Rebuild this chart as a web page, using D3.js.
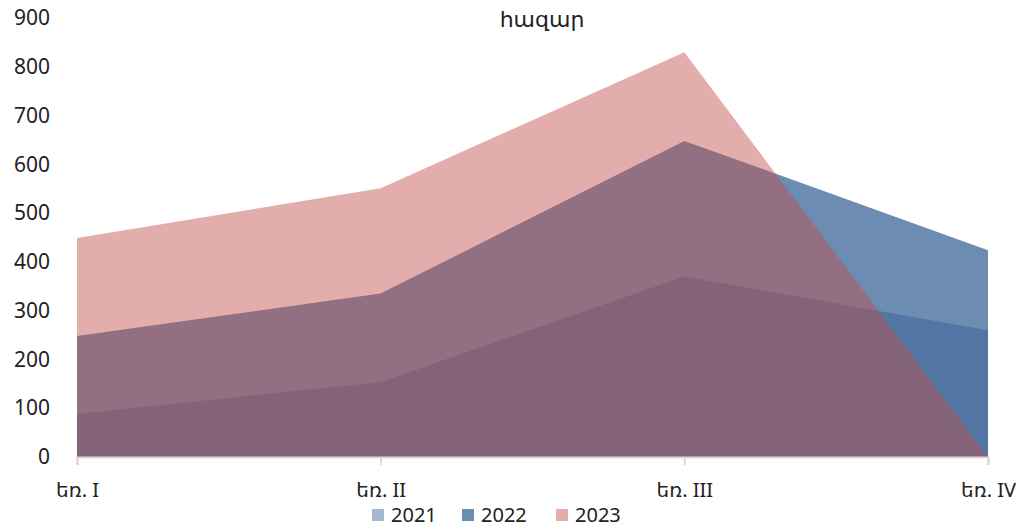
<!DOCTYPE html>
<html>
<head>
<meta charset="utf-8">
<script src="https://cdn.jsdelivr.net/npm/d3@7"></script>
<style>
  body { margin: 0; background: #fff; }
  text { font-family: "Noto Sans", "DejaVu Sans", sans-serif; fill: #222; }
</style>
</head>
<body>
<svg width="1021" height="531"></svg>
<script>
const categories = ["եռ. I", "եռ. II", "եռ. III", "եռ. IV"];
const years = ["2021", "2022", "2023"];
const values2021 = [88, 154, 370, 260];
const values2022 = [248, 335, 648, 424];
const values2023 = [449, 551, 830, 0];
const yTicks = [0, 100, 200, 300, 400, 500, 600, 700, 800, 900];

const series = [
  { name: "2021", values: values2021, color: "#305d92", opacity: 0.44 },
  { name: "2022", values: values2022, color: "#305d92", opacity: 0.71 },
  { name: "2023", values: values2023, color: "#bf4d47", opacity: 0.46 }
];

const svg = d3.select("svg");
const margin = { top: 18, right: 33, bottom: 74, left: 77 };
const width = +svg.attr("width");
const height = +svg.attr("height");
const innerWidth = width - margin.left - margin.right;
const innerHeight = height - margin.top - margin.bottom;

const x = d3.scalePoint().domain(categories).range([0, innerWidth]);
const y = d3.scaleLinear().domain([0, 900]).range([innerHeight, 0]);

const g = svg.append("g").attr("transform", `translate(${margin.left},${margin.top})`);

// areas, drawn 2021 -> 2023 so 2023 lies on top
const area = d3.area()
  .x((d, i) => x(categories[i]))
  .y0(y(0))
  .y1(d => y(d));

g.selectAll("path.area")
  .data(series)
  .enter()
  .append("path")
  .attr("class", "area")
  .attr("d", d => area(d.values))
  .attr("fill", d => d.color)
  .attr("fill-opacity", d => d.opacity);

// y axis: labels only
const yAxisG = g.append("g")
  .call(d3.axisLeft(y).tickValues(yTicks).tickSize(0).tickPadding(27));
yAxisG.select(".domain").remove();
yAxisG.selectAll("text").style("font-size", "21px").attr("fill", "#222");

// x axis
const xAxisG = g.append("g")
  .attr("transform", `translate(0,${innerHeight})`)
  .call(d3.axisBottom(x).tickSize(8).tickPadding(18));
xAxisG.select(".domain").attr("stroke", "#d9d9d9").attr("stroke-width", 2);
xAxisG.selectAll(".tick line").attr("stroke", "#d9d9d9").attr("stroke-width", 2);
xAxisG.selectAll("text").style("font-size", "20px").attr("fill", "#222");

// title
svg.append("text")
  .attr("x", 542)
  .attr("y", 27)
  .attr("text-anchor", "middle")
  .style("font-size", "22px")
  .text("հազար");

// legend
const legendX = [372, 462, 556];
const legend = svg.append("g");
series.forEach((s, i) => {
  const lg = legend.append("g").attr("transform", `translate(${legendX[i]},509)`);
  lg.append("rect")
    .attr("width", 12).attr("height", 12)
    .attr("fill", s.color).attr("fill-opacity", s.opacity);
  lg.append("text")
    .attr("x", 19).attr("y", 13)
    .style("font-size", "20px")
    .text(years[i]);
});
</script>
</body>
</html>
